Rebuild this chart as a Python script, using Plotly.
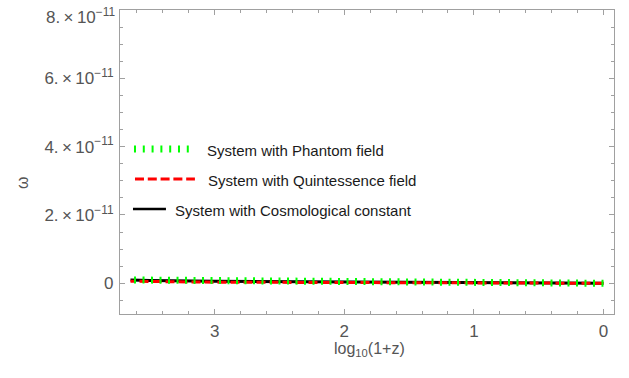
import plotly.graph_objects as go

# ---- data ----
log_1pz = [0.0, 0.5, 1.0, 1.5, 2.0, 2.5, 3.0, 3.5, 3.65]
w_cosmological = [0.0, 0.6e-13, 1.3e-13, 2.1e-13, 3.0e-13, 4.2e-13, 5.8e-13, 8.2e-13, 9.2e-13]
w_quintessence = [0.0, 0.2e-13, 0.5e-13, 0.8e-13, 1.2e-13, 2.0e-13, 3.2e-13, 5.2e-13, 6.0e-13]
w_phantom = [0.0, 0.7e-13, 1.5e-13, 2.4e-13, 3.4e-13, 4.6e-13, 6.2e-13, 8.6e-13, 9.6e-13]

series_names = ["System with Phantom field", "System with Quintessence field",
                "System with Cosmological constant"]

x_tickvals = [3, 2, 1, 0]
x_ticktext = ["3", "2", "1", "0"]
y_tickvals = [0, 2e-11, 4e-11, 6e-11, 8e-11]
y_ticktext = ["0", "2.\u2009×\u200910<sup>−11</sup>", "4.\u2009×\u200910<sup>−11</sup>",
              "6.\u2009×\u200910<sup>−11</sup>", "8.\u2009×\u200910<sup>−11</sup>"]

GREEN = "#00ff00"
RED = "#ff0000"
BLACK = "#000000"
FRAME = "#a0a0a0"
LABEL = "#555555"
FONT = "Liberation Sans, Arial, sans-serif"

fig = go.Figure()
fig.add_trace(go.Scatter(x=log_1pz, y=w_cosmological, mode="lines",
                         line=dict(color=BLACK, width=3), name=series_names[2],
                         showlegend=False))
fig.add_trace(go.Scatter(x=log_1pz, y=w_quintessence, mode="lines",
                         line=dict(color=RED, width=3, dash="9px,4px"), name=series_names[1],
                         showlegend=False))
fig.add_trace(go.Scatter(x=log_1pz, y=w_phantom, mode="lines",
                         line=dict(color=GREEN, width=7, dash="2px,6.5px"), name=series_names[0],
                         showlegend=False))

W, H = 629, 378
L, R, T, B = 120, 14.5, 10, 64
pw, ph = W - L - R, H - T - B


def px(xp):
    return (xp - L) / pw


def py(yp):
    return (H - B - yp) / ph


# manual legend (Mathematica-style)
fig.add_shape(type="line", xref="paper", yref="paper", x0=px(134), x1=px(190),
              y0=py(149), y1=py(149), line=dict(color=GREEN, width=7, dash="2px,6.8px"))
fig.add_shape(type="line", xref="paper", yref="paper", x0=px(135), x1=px(195),
              y0=py(179), y1=py(179), line=dict(color=RED, width=3, dash="9px,3.8px"))
fig.add_shape(type="line", xref="paper", yref="paper", x0=px(133), x1=px(166),
              y0=py(209), y1=py(209), line=dict(color=BLACK, width=2.5))

for name, xs, ys in [(series_names[0], 205, 150), (series_names[1], 206, 180),
                     (series_names[2], 173, 210)]:
    fig.add_annotation(text=name, xref="paper", yref="paper", x=px(xs), y=py(ys),
                       xanchor="left", yanchor="middle", showarrow=False,
                       font=dict(family=FONT, size=15, color="#1a1a1a"))

# axis titles
fig.add_annotation(text="ω", xref="paper", yref="paper", x=px(22), y=py(183),
                   textangle=-90, showarrow=False, xanchor="center", yanchor="middle",
                   font=dict(family=FONT, size=16, color=LABEL))
fig.add_annotation(text="log<sub>10</sub>(1+z)", xref="paper", yref="paper", x=px(370),
                   y=py(349), showarrow=False, xanchor="center", yanchor="middle",
                   font=dict(family=FONT, size=16, color=LABEL))

# top y tick label is nudged down (as in the reference) so it stays inside the page
top_label = y_ticktext[-1]
shown_ticktext = y_ticktext[:-1] + [""]
fig.add_annotation(text=top_label, xref="paper", yref="y", x=px(117.5), y=y_tickvals[-1],
                   yshift=-6, xanchor="right", yanchor="middle", showarrow=False,
                   font=dict(family=FONT, size=17, color=LABEL))

axis_common = dict(showgrid=False, zeroline=False, showline=True, linecolor=FRAME,
                   linewidth=1.2, mirror="allticks", ticks="inside", tickcolor=FRAME,
                   ticklen=5, tickwidth=1, tickfont=dict(family=FONT, size=17, color=LABEL))

fig.update_xaxes(range=[3.731, -0.081], tickvals=x_tickvals, ticktext=x_ticktext,
                 minor=dict(ticks="inside", ticklen=3, tickcolor=FRAME, dtick=0.2, tick0=0),
                 ticklabelstandoff=1, **axis_common)
fig.update_yaxes(range=[-0.9e-11, 8e-11], tickvals=y_tickvals, ticktext=shown_ticktext,
                 minor=dict(ticks="inside", ticklen=3, tickcolor=FRAME, dtick=0.5e-11, tick0=0),
                 ticklabelstandoff=2, ticklabeloverflow="allow", **axis_common)

fig.update_layout(width=W, height=H, margin=dict(l=L, r=R, t=T, b=B, autoexpand=False),
                  plot_bgcolor="white", paper_bgcolor="white", showlegend=False,
                  font=dict(family=FONT))

fig.write_html("out.html")
